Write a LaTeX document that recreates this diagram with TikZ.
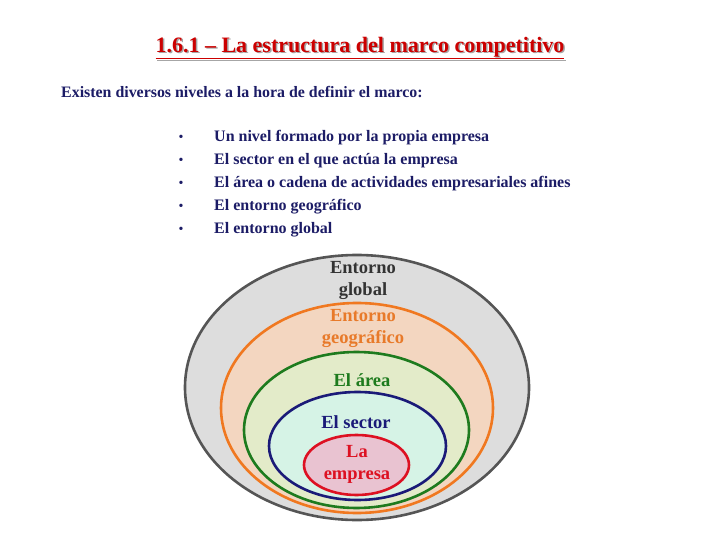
\documentclass[tikz,border=0pt]{standalone}
\usepackage{fontspec}
\setmainfont{Liberation Serif}
\usetikzlibrary{shapes.geometric}
\definecolor{navy}{HTML}{1C1C66}
\definecolor{ttlred}{HTML}{CC0000}
\definecolor{gfill}{HTML}{DDDDDD}
\definecolor{gline}{HTML}{555555}
\definecolor{gtext}{HTML}{333333}
\definecolor{ofill}{HTML}{F3D6C0}
\definecolor{oline}{HTML}{F07820}
\definecolor{otext}{HTML}{E87A2A}
\definecolor{afill}{HTML}{E3EBC9}
\definecolor{aline}{HTML}{1E7B1E}
\definecolor{sfill}{HTML}{D6F3E6}
\definecolor{sline}{HTML}{1A1A78}
\definecolor{efill}{HTML}{E9C3D1}
\definecolor{eline}{HTML}{DD1122}
\begin{document}
\begin{tikzpicture}[x=1pt,y=-1pt,
  ring/.style={ellipse, line width=2.6pt, inner sep=0pt},
  lbl/.style={font=\fontsize{18.5}{22}\selectfont\bfseries, align=center, inner sep=0pt},
  item/.style={anchor=west, text=navy, font=\fontsize{16}{18}\selectfont\bfseries, inner sep=0pt},
  dot/.style={text=navy, font=\fontsize{14}{16}\selectfont, inner sep=0pt}]
\useasboundingbox (0,0) rectangle (720,540);
\fill[white] (0,0) rectangle (720,540);
% title
\node[text=gray!70, font=\fontsize{22}{26}\selectfont\bfseries, inner sep=0pt] (tshadow) at (361.5,49.5) {\underline{1.6.1 – La estructura del marco competitivo}};
\node[text=ttlred, font=\fontsize{22}{26}\selectfont\bfseries, inner sep=0pt] (title) at (360,48) {\underline{1.6.1 – La estructura del marco competitivo}};
\node[anchor=west, text=navy, font=\fontsize{15.9}{18}\selectfont\bfseries, inner sep=0pt] (intro) at (61,92) {Existen diversos niveles a la hora de definir el marco:};
% bullets
\foreach \y/\t [count=\i] in {138/Un nivel formado por la propia empresa, 161/El sector en el que actúa la empresa, 184/El área o cadena de actividades empresariales afines, 207/El entorno geográfico, 230/El entorno global}{
  \node[dot] (b\i) at (181,\y) {•};
  \node[item] (it\i) at (214,\y) {\t};
}
% rings
\node[ring, draw=gline, fill=gfill, minimum width=344pt, minimum height=265pt] (glob) at (357,387.5) {};
\node[ring, draw=oline, fill=ofill, minimum width=272pt, minimum height=210pt] (geo) at (357,408) {};
\node[ring, draw=aline, fill=afill, minimum width=225pt, minimum height=156pt] (area) at (356.5,430) {};
\node[ring, draw=sline, fill=sfill, minimum width=177pt, minimum height=108pt] (sect) at (357.5,446) {};
\node[ring, draw=eline, fill=efill, minimum width=105pt, minimum height=60pt] (emp) at (356.5,465) {};
% labels
\node[lbl, text=gtext] (lglob) at (363,280) {Entorno\\global};
\node[lbl, text=otext] (lgeo) at (363,328) {Entorno\\geográfico};
\node[lbl, text=aline] (larea) at (362,380) {El área};
\node[lbl, text=sline] (lsect) at (356,422) {El sector};
\node[lbl, text=eline] (lemp) at (357,464) {La\\empresa};
\end{tikzpicture}
\end{document}
